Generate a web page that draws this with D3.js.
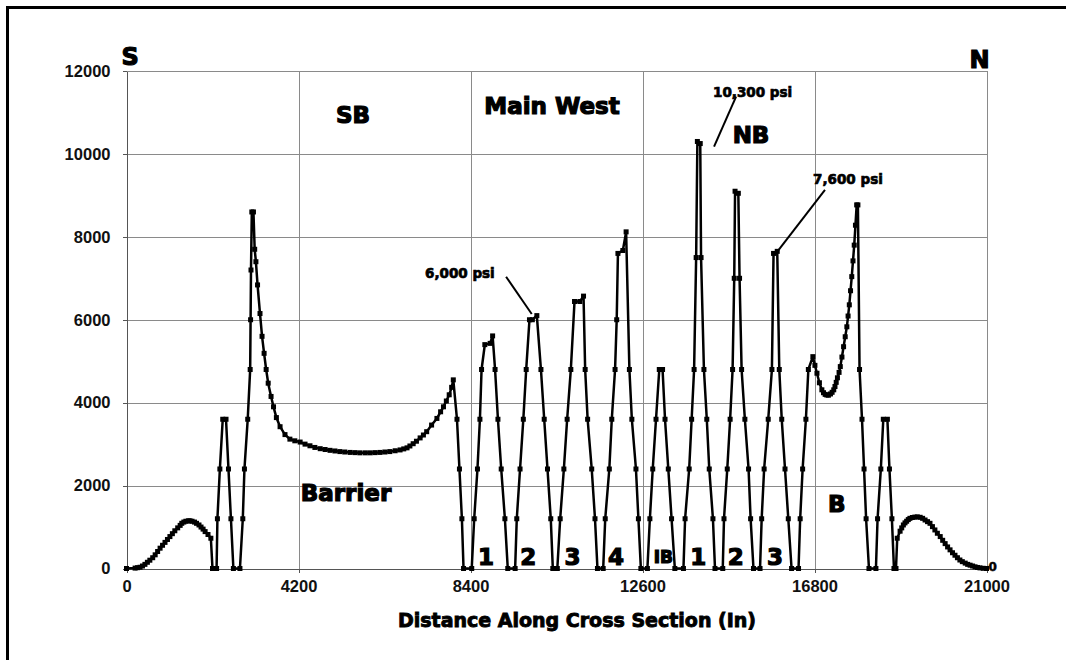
<!doctype html>
<html lang="en">
  <head>
    <meta charset="UTF-8" />
    <title>Pressure Along Cross Section</title>
    <script src="https://d3js.org/d3.v7.min.js"></script>
    <style>
      body {
        margin: 0;
        background: #fff;
      }
      svg {
        display: block;
        font-family: 'DejaVu Sans', 'Liberation Sans', Arial, sans-serif;
      }
      .grid line {
        stroke: #8a8a8a;
        stroke-width: 1;
        shape-rendering: crispEdges;
      }
      .grid path {
        display: none;
      }
      .axis path,
      .axis line {
        stroke: #555;
        shape-rendering: crispEdges;
      }
      .axis text {
        font-family: 'Liberation Sans', Arial, sans-serif;
        font-size: 16.5px;
        font-weight: bold;
        fill: #111;
      }
      .heavy {
        font-weight: bold;
        fill: #000;
        stroke: #000;
        stroke-width: 1.2px;
      }
    </style>
  </head>
  <body>
    <svg id="chart" width="1066" height="660"></svg>

    <script>
      // [distance (in), pressure (psi)], south to north
      const southBell = [
        [0, 0], [210, 10], [270, 20], [330, 30], [390, 60], [450, 100], [510, 150], [570, 200],
        [640, 260], [700, 330], [760, 410], [820, 490], [880, 560], [940, 630], [1000, 700],
        [1060, 770], [1120, 840], [1180, 910], [1250, 980], [1310, 1040], [1350, 1090], [1400, 1120],
        [1450, 1140], [1510, 1150], [1550, 1150], [1600, 1140], [1660, 1120], [1710, 1090],
        [1770, 1050], [1820, 1000], [1870, 950], [1920, 890], [1990, 820], [2060, 730], [2100, 0],
        [2200, 0],
      ]
      const southSpikes = [
        [2220, 1200], [2280, 2400], [2350, 3600], [2430, 3600], [2490, 2400], [2550, 1200], [2610, 0],
        [2770, 0], [2840, 1200], [2880, 2400], [2960, 3600], [3020, 4800], [3030, 6000], [3040, 7200],
        [3060, 8600], [3100, 8600],
      ]
      const barrier = [
        [3130, 7700], [3160, 7400], [3200, 6840], [3260, 6150], [3310, 5600], [3360, 5190],
        [3410, 4800], [3460, 4470], [3530, 4150], [3590, 3900], [3660, 3640], [3750, 3420],
        [3870, 3230], [3990, 3120], [4110, 3080], [4240, 3050], [4360, 3000], [4480, 2960],
        [4600, 2920], [4730, 2890], [4850, 2870], [4970, 2850], [5090, 2835], [5210, 2820],
        [5330, 2810], [5460, 2800], [5580, 2795], [5700, 2790], [5830, 2790], [5950, 2790],
        [6070, 2795], [6190, 2800], [6310, 2810], [6430, 2820], [6560, 2840], [6680, 2860],
        [6770, 2885], [6850, 2910], [6920, 2955], [7000, 3010], [7080, 3070], [7170, 3150],
        [7250, 3220], [7330, 3300], [7450, 3460], [7580, 3620], [7670, 3780], [7740, 3900],
        [7810, 4040], [7880, 4190], [7940, 4370], [7980, 4550], [8070, 3600], [8130, 2400],
        [8190, 1200], [8230, 0], [8430, 0],
      ]
      const mainWest = [
        [8490, 1200], [8570, 2400], [8630, 3600], [8670, 4800], [8750, 5400], [8880, 5430],
        [8940, 5610], [9000, 4800], [9070, 3600], [9150, 2400], [9240, 1200], [9310, 0], [9490, 0],
        [9530, 1200], [9610, 2400], [9690, 3600], [9760, 4800], [9840, 6000], [9910, 6000],
        [10020, 6100], [10120, 4800], [10200, 3600], [10280, 2400], [10360, 1200], [10410, 0],
        [10520, 0], [10590, 1200], [10680, 2400], [10760, 3600], [10850, 4800], [10940, 6440],
        [11070, 6440], [11160, 6570], [11200, 4800], [11260, 3600], [11360, 2400], [11440, 1200],
        [11500, 0], [11640, 0], [11690, 1200], [11790, 2400], [11850, 3600], [11930, 4800],
        [11970, 6000], [12000, 7600], [12120, 7670], [12200, 8120], [12280, 4800], [12340, 3600],
        [12440, 2400], [12500, 1200], [12560, 0], [12720, 0],
      ]
      const ibSpike = [
        [12780, 1200], [12850, 2400], [12930, 3600], [13010, 4800], [13090, 4800], [13150, 3600],
        [13230, 2400], [13310, 1200], [13390, 0], [13600, 0],
      ]
      const northEntries = [
        [13640, 1200], [13740, 2400], [13800, 3600], [13860, 4800], [13910, 7500], [13940, 10300],
        [14010, 10250], [14030, 7500], [14100, 4800], [14170, 3600], [14230, 2400], [14320, 1200],
        [14370, 0], [14560, 0], [14590, 1200], [14670, 2400], [14740, 3600], [14800, 4800],
        [14840, 7000], [14860, 9100], [14940, 9050], [14970, 7000], [15020, 4800], [15100, 3600],
        [15190, 2400], [15240, 1200], [15310, 0], [15470, 0], [15510, 1200], [15570, 2400],
        [15670, 3600], [15760, 4800], [15800, 7600], [15890, 7650], [15940, 4800], [16000, 3600],
        [16080, 2400], [16160, 1200], [16240, 0], [16410, 0],
      ]
      const bCurve = [
        [16450, 1200], [16510, 2400], [16590, 3600], [16650, 4800], [16760, 5110], [16810, 4900],
        [16860, 4710], [16920, 4480], [16980, 4310], [17020, 4240], [17060, 4200], [17100, 4185],
        [17140, 4180], [17190, 4210], [17230, 4250], [17270, 4310], [17300, 4390], [17330, 4490],
        [17360, 4600], [17400, 4730], [17430, 4870], [17470, 5100], [17510, 5350], [17550, 5590],
        [17590, 5830], [17620, 6090], [17650, 6360], [17680, 6700], [17710, 7040], [17740, 7420],
        [17770, 7800], [17800, 8280], [17830, 8770], [17860, 8770], [17900, 4800], [17960, 3600],
        [18010, 2400], [18060, 1200], [18130, 0], [18300, 0], [18340, 1200], [18420, 2400],
        [18480, 3600], [18580, 3600], [18630, 2400], [18690, 1200], [18740, 0], [18790, 0],
      ]
      const northBell = [
        [18820, 730], [18890, 900], [18930, 980], [18970, 1050], [19010, 1100], [19050, 1140],
        [19090, 1180], [19130, 1210], [19190, 1230], [19250, 1240], [19310, 1245], [19380, 1235],
        [19440, 1210], [19500, 1170], [19560, 1130], [19620, 1090], [19680, 1010], [19740, 930],
        [19800, 850], [19870, 770], [19930, 680], [19990, 600], [20050, 520], [20110, 450],
        [20170, 380], [20230, 320], [20290, 260], [20350, 205], [20410, 165], [20480, 130],
        [20540, 100], [20600, 80], [20660, 60], [20720, 40], [20780, 25], [20840, 15], [20920, 5],
        [21000, 0],
      ]

      const xTicks = [0, 4200, 8400, 12600, 16800, 21000]
      const yTicks = [0, 2000, 4000, 6000, 8000, 10000, 12000]

      const zoneLabels = ['SB', 'Main West', 'NB', 'Barrier', 'B']
      const entryLabels = ['1', '2', '3', '4', 'IB', '1', '2', '3']
      const psiLabels = ['6,000 psi', '10,300 psi', '7,600 psi']
      const xTitle = 'Distance Along Cross Section (In)'

      const points = [
        ...southBell,
        ...southSpikes,
        ...barrier,
        ...mainWest,
        ...ibSpike,
        ...northEntries,
        ...bCurve,
        ...northBell,
      ].map(([d, p]) => ({ x: d, y: p }))

      const svg = d3.select('#chart')
      const W = 1066
      const H = 660
      const plotLeft = 126.5
      const plotRight = 986.5
      const plotTop = 71
      const plotBottom = 568.5

      const x = d3.scaleLinear().domain([0, 21000]).range([plotLeft, plotRight])
      const y = d3.scaleLinear().domain([0, 12000]).range([plotBottom, plotTop])

      // picture frame (left + top only, as cropped)
      svg
        .append('path')
        .attr('d', `M${W},7.5 H7.5 V${H}`)
        .attr('fill', 'none')
        .attr('stroke', '#000')
        .attr('stroke-width', 3)

      // grid
      svg
        .append('g')
        .attr('class', 'grid')
        .attr('transform', `translate(${plotRight},0)`)
        .call(d3.axisLeft(y).tickValues(yTicks.slice(1)).tickSize(plotRight - plotLeft).tickFormat(''))

      svg
        .append('g')
        .attr('class', 'grid')
        .attr('transform', `translate(0,${plotBottom})`)
        .call(d3.axisBottom(x).tickValues(xTicks.slice(1)).tickSize(-(plotBottom - plotTop)).tickFormat(''))

      // axes
      svg
        .append('g')
        .attr('class', 'axis')
        .attr('transform', `translate(${plotLeft},0)`)
        .call(
          d3.axisLeft(y).tickValues(yTicks).tickSize(4).tickPadding(12).tickSizeOuter(0).tickFormat(d3.format('d'))
        )
        .select('.domain')
        .attr('stroke', '#777')

      svg
        .append('g')
        .attr('class', 'axis')
        .attr('transform', `translate(0,${plotBottom})`)
        .call(
          d3.axisBottom(x).tickValues(xTicks).tickSize(4).tickPadding(8).tickSizeOuter(0).tickFormat(d3.format('d'))
        )
        .select('.domain')
        .attr('stroke', '#333')

      // pressure profile
      const line = d3
        .line()
        .x((d) => x(d.x))
        .y((d) => y(d.y))

      svg
        .append('path')
        .datum(points)
        .attr('d', line)
        .attr('fill', 'none')
        .attr('stroke', '#000')
        .attr('stroke-width', 2.5)
        .attr('stroke-linejoin', 'round')

      svg
        .append('g')
        .selectAll('rect')
        .data(points)
        .join('rect')
        .attr('x', (d) => x(d.x) - 2.5)
        .attr('y', (d) => y(d.y) - 2.5)
        .attr('width', 5)
        .attr('height', 5)
        .attr('fill', '#000')

      // zone labels
      const zonePos = [
        [5530, 10746],
        [10391, 10963],
        [15250, 10256],
        [5360, 1635],
        [17343, 1370],
      ]
      svg
        .append('g')
        .selectAll('text')
        .data(zoneLabels)
        .join('text')
        .attr('class', 'heavy')
        .attr('x', (d, i) => x(zonePos[i][0]))
        .attr('y', (d, i) => y(zonePos[i][1]))
        .attr('text-anchor', 'middle')
        .style('font-size', '23px')
        .text((d) => d)

      // entry numbers along the bottom
      const entryPos = [8779, 9812, 10891, 11954, 13109, 13963, 14879, 15837]
      svg
        .append('g')
        .selectAll('text')
        .data(entryLabels)
        .join('text')
        .attr('class', 'heavy')
        .attr('x', (d, i) => x(entryPos[i]))
        .attr('y', (d) => (d === 'IB' ? y(125) : y(84)))
        .attr('text-anchor', 'middle')
        .style('font-size', (d) => (d === 'IB' ? '17px' : '23px'))
        .text((d) => d)

      // psi callouts
      const psiText = [
        [7289, 7007],
        [14323, 11361],
        [16765, 9274],
      ]
      const psiLine = [
        [9269, 7038, 9895, 6139],
        [14885, 11380, 14347, 10174],
        [17056, 9130, 15892, 7641],
      ]
      svg
        .append('g')
        .selectAll('line')
        .data(psiLine)
        .join('line')
        .attr('x1', (d) => x(d[0]))
        .attr('y1', (d) => y(d[1]))
        .attr('x2', (d) => x(d[2]))
        .attr('y2', (d) => y(d[3]))
        .attr('stroke', '#000')
        .attr('stroke-width', 2)

      svg
        .append('g')
        .selectAll('text')
        .data(psiLabels)
        .join('text')
        .attr('class', 'heavy')
        .attr('x', (d, i) => x(psiText[i][0]))
        .attr('y', (d, i) => y(psiText[i][1]))
        .style('font-size', '13.5px')
        .style('stroke-width', '0.7px')
        .text((d) => d)

      // S / N ends
      svg
        .append('text')
        .attr('class', 'heavy')
        .attr('x', plotLeft - 5)
        .attr('y', 65)
        .style('font-size', '24px')
        .text('S')
      svg
        .append('text')
        .attr('class', 'heavy')
        .attr('x', plotRight - 17)
        .attr('y', 68)
        .style('font-size', '24px')
        .text('N')

      // small secondary zero at right end
      svg
        .append('text')
        .attr('class', 'heavy')
        .attr('x', plotRight + 2)
        .attr('y', plotBottom + 2)
        .style('font-size', '12px')
        .style('stroke-width', '0.5px')
        .text('0')

      // x title
      svg
        .append('text')
        .attr('class', 'heavy')
        .attr('x', 577)
        .attr('y', 627)
        .attr('text-anchor', 'middle')
        .style('font-size', '19px')
        .style('stroke-width', '0.9px')
        .text(xTitle)
    </script>
  </body>
</html>
